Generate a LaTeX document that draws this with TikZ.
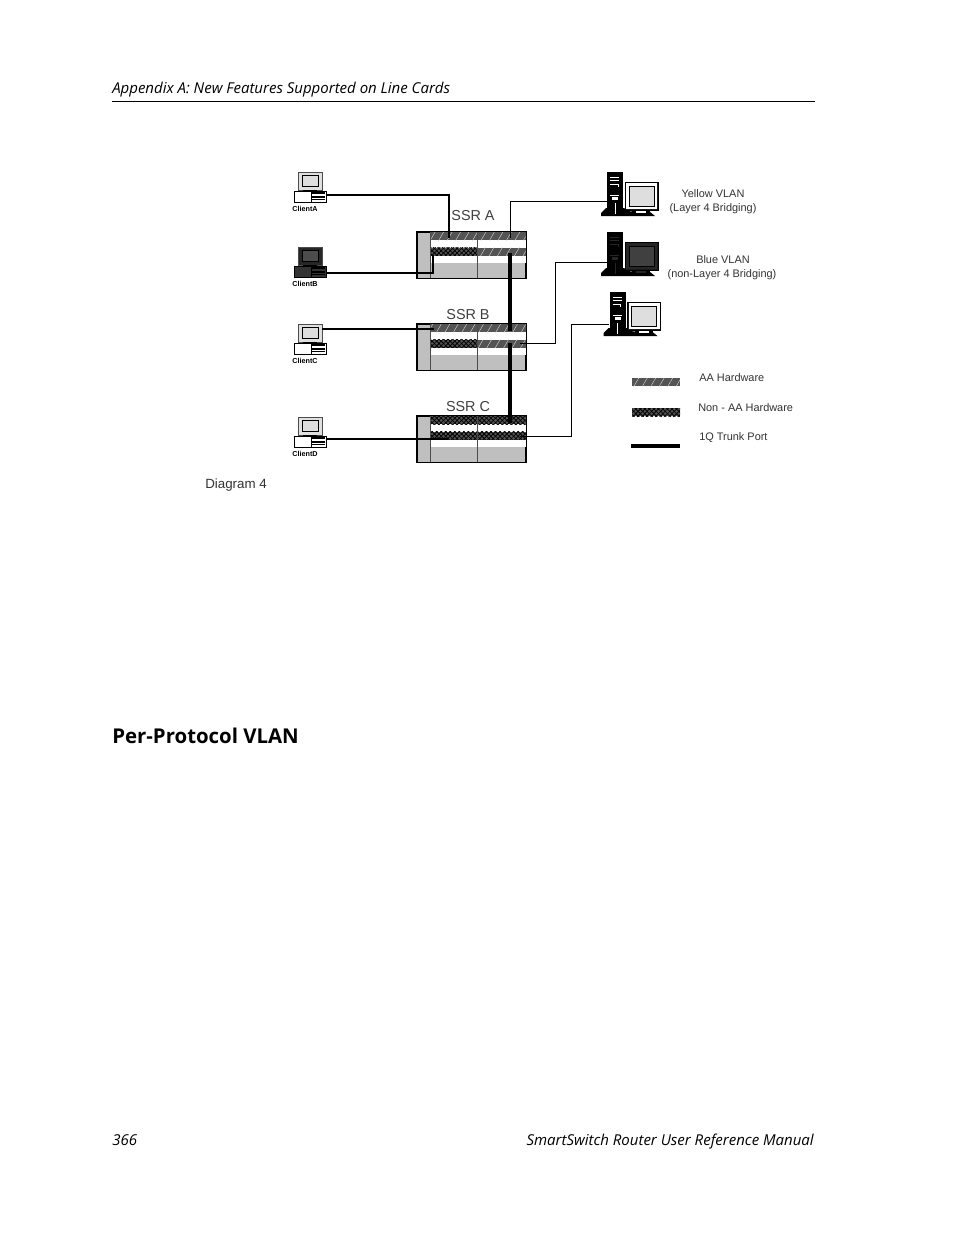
\documentclass[tikz,border=0pt]{standalone}
\usepackage{fontspec}
\setmainfont{Open Sans}
\newfontfamily\dgfont{Liberation Sans}
\usetikzlibrary{calc,patterns.meta}
\definecolor{bandgray}{gray}{0.33}
\definecolor{boxgray}{gray}{0.75}
\definecolor{screengray}{gray}{0.87}
\tikzset{
  aahw/.style={fill=bandgray,postaction={pattern={Lines[angle=60,distance=5.5pt,line width=.3pt]},pattern color=white!85!black}},
  nonaa/.style={fill=bandgray,postaction={pattern={Lines[angle=45,distance=2.4pt,line width=.6pt]},pattern color=black},postaction={pattern={Lines[angle=-45,distance=2.4pt,line width=.6pt]},pattern color=black}},
  chassis/.style={draw=black,line width=.6pt,fill=boxgray,minimum width=81.5pt,minimum height=34.5pt,inner sep=0pt},
  pccase/.style={draw=black,line width=.5pt,minimum width=24pt,minimum height=8.25pt,inner sep=0pt},
  pcscreen/.style={draw=black!70,line width=.5pt,minimum width=18pt,minimum height=13.5pt,inner sep=0pt},
  tower/.style={fill=black,minimum width=12pt,minimum height=27pt,inner sep=0pt},
  wire/.style={line width=1.35pt,black},
  thinwire/.style={line width=.6pt,black},
  trunk/.style={line width=2.5pt,black},
  dglabel/.style={font=\dgfont\fontsize{8.2}{10}\selectfont,text=black!80,inner sep=0pt},
  ssrlabel/.style={font=\dgfont\fontsize{10.8}{12}\selectfont,text=black!75,inner sep=0pt},
  clientlabel/.style={font=\dgfont\bfseries\fontsize{5.4}{6}\selectfont,inner sep=0pt},
  pagetext/.style={font=\itshape\fontsize{11.25}{12}\selectfont,inner sep=0pt}
}
\begin{document}
\begin{tikzpicture}[x=.75pt,y=-.75pt]
  \useasboundingbox[fill=white] (0,0) rectangle (954,1235);
  % page text
  \node[pagetext,anchor=west] (header) at (112,90) {Appendix A: New Features Supported on Line Cards};
  \draw[line width=.7pt] (112,101) -- (815,101);
  \node[anchor=west,inner sep=0pt,font=\bfseries\fontsize{15.3}{18}\selectfont] (heading) at (112,736) {Per-Protocol VLAN};
  \node[pagetext,anchor=west] (pageno) at (112,1140) {366};
  \node[pagetext,anchor=east] (manual) at (814,1142) {SmartSwitch Router User Reference Manual};
  % switches
  \foreach \n/\y/\a/\b/\c/\d in {ssra/232/aahw/aahw/nonaa/aahw,ssrb/324/aahw/aahw/nonaa/aahw,ssrc/416/nonaa/nonaa/nonaa/nonaa}{
    \begin{scope}[shift={(0,\y)}]
      \node[chassis] (\n) at (471.5,23) {};
      \fill[white] (430,8) rectangle (525.5,15.5);
      \fill[white] (430,23.5) rectangle (525.5,31);
      \path[\a] (430,0) rectangle (477.5,8);
      \path[\b] (477.5,0) rectangle (525.5,8);
      \path[\c] (430,15.5) rectangle (477.5,23.5);
      \path[\d] (477.5,15.5) rectangle (525.5,23.5);
      \draw[black!70,line width=.5pt] (430,0) -- (430,46) (477.5,0) -- (477.5,46);
      \draw[line width=.6pt] (\n.north west) rectangle (\n.south east);
    \end{scope}
  }
  \node[ssrlabel] (ssralabel) at (473,216) {SSR A};
  \node[ssrlabel] (ssrblabel) at (468,315) {SSR B};
  \node[ssrlabel] (ssrclabel) at (468,407) {SSR C};
  % clients
  \foreach \n/\t/\y/\k/\s/\f in {clienta/ClientA/172/white/screengray/black!12,clientb/ClientB/247/black!80/black!70/black!85,clientc/ClientC/324/white/screengray/black!12,clientd/ClientD/417/white/screengray/black!12}{
    \begin{scope}[shift={(0,\y)}]
      \node[pcscreen,fill=\f] (\n mon) at (310,9) {};
      \fill[\s,draw=black] (302,3) rectangle (318,14);
      \fill[black] (303,18) rectangle (317,19.5);
      \node[pccase,fill=\k] (\n) at (310,24.5) {};
      \fill[black] (311,20) rectangle (325,22);
      \fill[black] (311,24) rectangle (325,25.5);
      \draw[black,line width=.5pt] (311,19) -- (311,30) (312,27.5) -- (325,27.5);
      \node[clientlabel] (\n text) at (305,36.5) {\t};
    \end{scope}
  }
  % servers
  \foreach \n/\x/\y/\s/\f in {servery/0/0/screengray/white,serverb/0/60/black!75/black!85,serverz/2.5/120/screengray/white}{
    \begin{scope}[shift={(\x,\y)}]
      \node[tower] (\n) at (615,190) {};
      \fill[black] (601,213) -- (606,208) -- (624,208) -- (628,211) -- (636,212) -- (650,212) -- (655,216) -- (601,216) -- cycle;
      \draw[\f,line width=.6pt] (610,177) -- (619,177) (610,180) -- (619,180) (610,184) -- (618,184) -- (618,187) (610,195) -- (619,195);
      \fill[\f] (612,197) rectangle (618,200);
      \draw[\f,line width=.6pt] (615,203) -- (615,214);
      \fill[black!90,draw=black,line width=.5pt] (625,182) rectangle (658,210);
      \fill[\f] (626,183) rectangle (657,209);
      \fill[\s,draw=black] (629,186) rectangle (654,206);
      \fill[black] (632,210) rectangle (650,214);
      \fill[\f] (636,211) rectangle (646,213);
    \end{scope}
  }
  % ports
  \coordinate (pa) at (449,238);
  \coordinate (pb) at (433,255);
  \coordinate (pc) at (434,329);
  \coordinate (pd) at (448,439);
  \coordinate (ra) at (449,195);
  \coordinate (rb) at (433,273);
  \coordinate (qa) at (510,238);
  \coordinate (qb) at (520,343);
  \coordinate (qc) at (520,436);
  \coordinate (ta) at (510,253);
  \coordinate (tb) at (510,331);
  \coordinate (tc) at (510,343);
  \coordinate (td) at (510,423);
  % links
  \draw[wire,line width=1.1pt] (clienta.east |- ra) -- (ra) -- (pa);
  \draw[wire] (clientb.east |- rb) -- (rb) -- (pb);
  \draw[wire] (clientcmon.east |- pc) -- (pc);
  \draw[wire] (clientd.east |- pd) -- (pd);
  \draw[thinwire] (qa) |- (servery.west |- 0,201);
  \draw[thinwire] (qb) -| (555,262) -- (serverb.west |- 0,262);
  \draw[thinwire] (qc) -| (571,324) -- (serverz.west |- 0,324);
  \draw[trunk] (ta) -- (tb);
  \draw[trunk] (tc) -- (td);
  % VLAN labels
  \node[dglabel] (yellowlabel) at (713,194) {Yellow VLAN};
  \node[dglabel] (yellowsub) at (713,209) {(Layer 4 Bridging)};
  \node[dglabel] (bluelabel) at (723,260) {Blue VLAN};
  \node[dglabel] (bluesub) at (722,275) {(non-Layer 4 Bridging)};
  % legend
  \path[aahw] (632,378) rectangle (680,386);
  \path[nonaa] (632,408) rectangle (680,416);
  \coordinate (la) at (631,446);
  \coordinate (lb) at (680,446);
  \draw[line width=2.5pt] (la) -- (lb);
  \node[dglabel,anchor=west] (aatext) at (699,378) {AA Hardware};
  \node[dglabel,anchor=west] (nonaatext) at (698,408) {Non - AA Hardware};
  \node[dglabel,anchor=west] (trunktext) at (699,438) {1Q Trunk Port};
  \node[dglabel,anchor=west,font=\dgfont\fontsize{10}{12}\selectfont] (diagramtext) at (205,485) {Diagram 4};
\end{tikzpicture}
\end{document}
